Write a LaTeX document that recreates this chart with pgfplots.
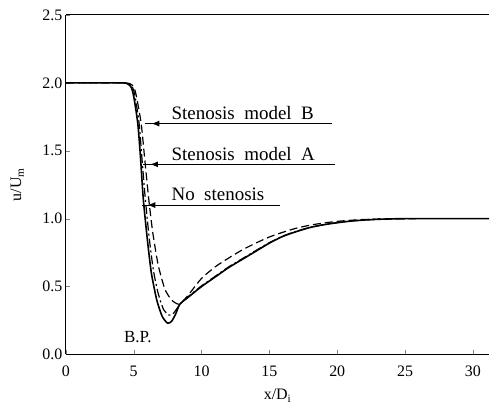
\documentclass[border=0pt]{standalone}
\usepackage{pgfplots}
\pgfplotsset{compat=1.18}
\usepackage{fontspec}
\setmainfont{Liberation Serif}
\usetikzlibrary{arrows.meta}
\begin{document}
\begin{tikzpicture}
\path (-66pt,-55pt) rectangle (424pt,355pt);
\begin{axis}[
  scale only axis, width=424pt, height=340pt,
  xmin=0, xmax=31.2, ymin=0, ymax=2.5,
  axis x line*=box, axis y line*=left,
  axis line style={line width=1pt},
  xtick={0,5,...,30}, ytick={0,0.5,...,2.5},
  xtick pos=left, ytick pos=left,
  tick align=inside, major tick length=4pt,
  yticklabel style={/pgf/number format/.cd, fixed, fixed zerofill, precision=1},
  /pgf/number format/assume math mode=true,
  tick label style={font=\fontsize{16}{18}\selectfont},
  xticklabel style={yshift=-8pt},
  xlabel={x/D\textsubscript{i}}, ylabel={u/U\textsubscript{m}},
  label style={font=\fontsize{16}{18}\selectfont},
  xlabel style={at={(axis description cs:0.5,0)}, anchor=north, yshift=-31pt},
  ylabel style={at={(axis description cs:-0.115,0.5)}, anchor=center},
  clip=false,
]
% No stenosis (solid)
\addplot[black, line width=1.6pt, smooth, tension=0.4] coordinates {
(0,2.0)(4.0,2.0)(4.5,1.995)(4.8,1.97)(5.0,1.9)(5.3,1.7)(5.5,1.45)(5.7,1.15)(6.0,0.85)(6.3,0.6)(6.7,0.4)(7.1,0.28)(7.5,0.23)(7.8,0.245)(8.1,0.30)(8.4,0.37)(9,0.42)(10,0.50)(11,0.57)(12,0.64)(13,0.70)(14,0.76)(15,0.82)(16,0.87)(17,0.905)(18,0.935)(19,0.955)(20,0.97)(21,0.982)(22,0.99)(23,0.995)(25,1.0)(31.2,1.0)};
% Stenosis model A (dash-dot)
\addplot[black, line width=1.2pt, smooth, tension=0.4, dash pattern=on 9pt off 3pt on 2pt off 3pt] coordinates {
(0,2.0)(4.0,2.0)(4.6,1.995)(4.9,1.97)(5.1,1.9)(5.4,1.7)(5.6,1.45)(5.85,1.15)(6.15,0.85)(6.45,0.62)(6.8,0.45)(7.2,0.33)(7.6,0.29)(7.9,0.30)(8.2,0.34)(8.5,0.38)(9,0.425)(10,0.505)(11,0.575)(12,0.645)(13,0.705)(14,0.765)(15,0.823)(16,0.872)(17,0.907)(18,0.936)(19,0.956)(20,0.971)(21,0.983)(22,0.99)(23,0.995)(25,1.0)};
% Stenosis model B (dashed)
\addplot[black, line width=1.2pt, smooth, tension=0.4, dash pattern=on 8pt off 4pt] coordinates {
(0,2.0)(4.0,2.0)(4.7,1.995)(5.0,1.97)(5.2,1.9)(5.55,1.7)(5.8,1.45)(6.1,1.15)(6.4,0.9)(6.8,0.66)(7.3,0.48)(7.8,0.40)(8.3,0.37)(8.7,0.40)(9.2,0.46)(10,0.56)(11,0.645)(12,0.71)(13,0.77)(14,0.82)(15,0.865)(16,0.90)(17,0.93)(18,0.952)(19,0.968)(20,0.98)(21,0.988)(22,0.994)(24,0.999)(26,1.0)};
% annotations
\draw[line width=1pt] (axis cs:5.8,1.7) -- (axis cs:19.6,1.7);
\draw[line width=1pt] (axis cs:5.7,1.4) -- (axis cs:19.8,1.4);
\draw[line width=1pt] (axis cs:5.6,1.1) -- (axis cs:15.8,1.1);
\draw[line width=1pt,-{Latex[length=8pt,width=6pt]}] (axis cs:7.6,1.7) -- (axis cs:6.3,1.7);
\draw[line width=1pt,-{Latex[length=8pt,width=6pt]}] (axis cs:7.5,1.4) -- (axis cs:6.2,1.4);
\draw[line width=1pt,-{Latex[length=8pt,width=6pt]}] (axis cs:7.3,1.1) -- (axis cs:6.0,1.1);
\node[anchor=south west, inner sep=1pt, font=\fontsize{19}{21}\selectfont] at (axis cs:7.7,1.72) {Stenosis\ \ model\ \ B};
\node[anchor=south west, inner sep=1pt, font=\fontsize{19}{21}\selectfont] at (axis cs:7.7,1.42) {Stenosis\ \ model\ \ A};
\node[anchor=south west, inner sep=1pt, font=\fontsize{19}{21}\selectfont] at (axis cs:7.7,1.12) {No\ \ stenosis};
\node[font=\fontsize{17}{19}\selectfont] at (axis cs:5.3,0.13) {B.P.};
\end{axis}
\end{tikzpicture}
\end{document}
